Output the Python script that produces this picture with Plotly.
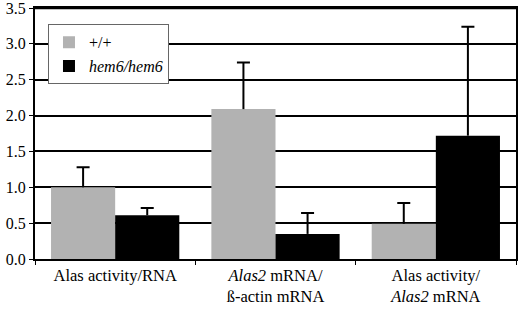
import plotly.graph_objects as go

categories = ["Alas activity/RNA", "<i>Alas2</i> mRNA/<br>ß-actin mRNA", "Alas activity/<br><i>Alas2</i> mRNA"]
wt_values = [1.00, 2.09, 0.49]
wt_errors = [0.28, 0.65, 0.29]
mut_values = [0.61, 0.35, 1.72]
mut_errors = [0.10, 0.29, 1.52]
series_names = ["+/+", "<i>hem6/hem6</i>"]
series_colors = ["#b2b2b2", "black"]
y_ticks = [0.0, 0.5, 1.0, 1.5, 2.0, 2.5, 3.0, 3.5]

font = dict(family="'Liberation Serif', 'Times New Roman', serif", color="black")

fig = go.Figure()
for i, (vals, errs) in enumerate([(wt_values, wt_errors), (mut_values, mut_errors)]):
    grp = f"g{i}"
    fig.add_bar(x=categories, y=vals, name=series_names[i], showlegend=True,
                offsetgroup=grp, marker=dict(color=series_colors[i], line=dict(width=0)),
                error_y=dict(type="data", array=errs, arrayminus=[0] * len(errs), symmetric=False,
                             color="black", thickness=2, width=0))
    # transparent overlay bar whose zero-length error bar draws the top cap only
    fig.add_bar(x=categories, y=[v + e for v, e in zip(vals, errs)], showlegend=False,
                offsetgroup=grp, hoverinfo="skip",
                marker=dict(color="rgba(0,0,0,0)", line=dict(width=0)),
                error_y=dict(type="data", array=[0] * len(errs), color="black",
                             thickness=2, width=6.5))

fig.update_layout(
    width=520, height=310,
    margin=dict(l=35, r=4, t=8, b=51),
    barmode="group", bargap=0.2, bargroupgap=0,
    plot_bgcolor="white", paper_bgcolor="white",
    font=dict(size=16, **font),
    legend=dict(x=0.027, y=0.935, xanchor="left", yanchor="top",
                bgcolor="white", bordercolor="#666", borderwidth=1,
                font=dict(size=16, **font), itemwidth=30, tracegroupgap=0),
    showlegend=True,
    shapes=[dict(type="line", xref="paper", yref="paper", x0=0, x1=1, y0=1, y1=1,
                 line=dict(color="black", width=2.5))],
)
fig.update_yaxes(range=[0, 3.5], tickvals=y_ticks, tickformat=".1f",
                 showgrid=True, gridcolor="black", gridwidth=2,
                 showline=True, linecolor="black", linewidth=2, mirror=True,
                 ticks="outside", ticklen=4, tickwidth=1, tickcolor="black",
                 ticklabeloverflow="allow",
                 tickfont=dict(size=16, **font), zeroline=False, automargin=False)
fig.update_xaxes(showline=True, linecolor="black", linewidth=2, mirror=True,
                 ticks="outside", tickson="boundaries", ticklen=4, tickcolor="black",
                 tickfont=dict(size=16.5, **font), showgrid=False, automargin=False)

fig.write_html("out.html", config={"displayModeBar": False},
               post_script="document.body.style.margin='0';")
